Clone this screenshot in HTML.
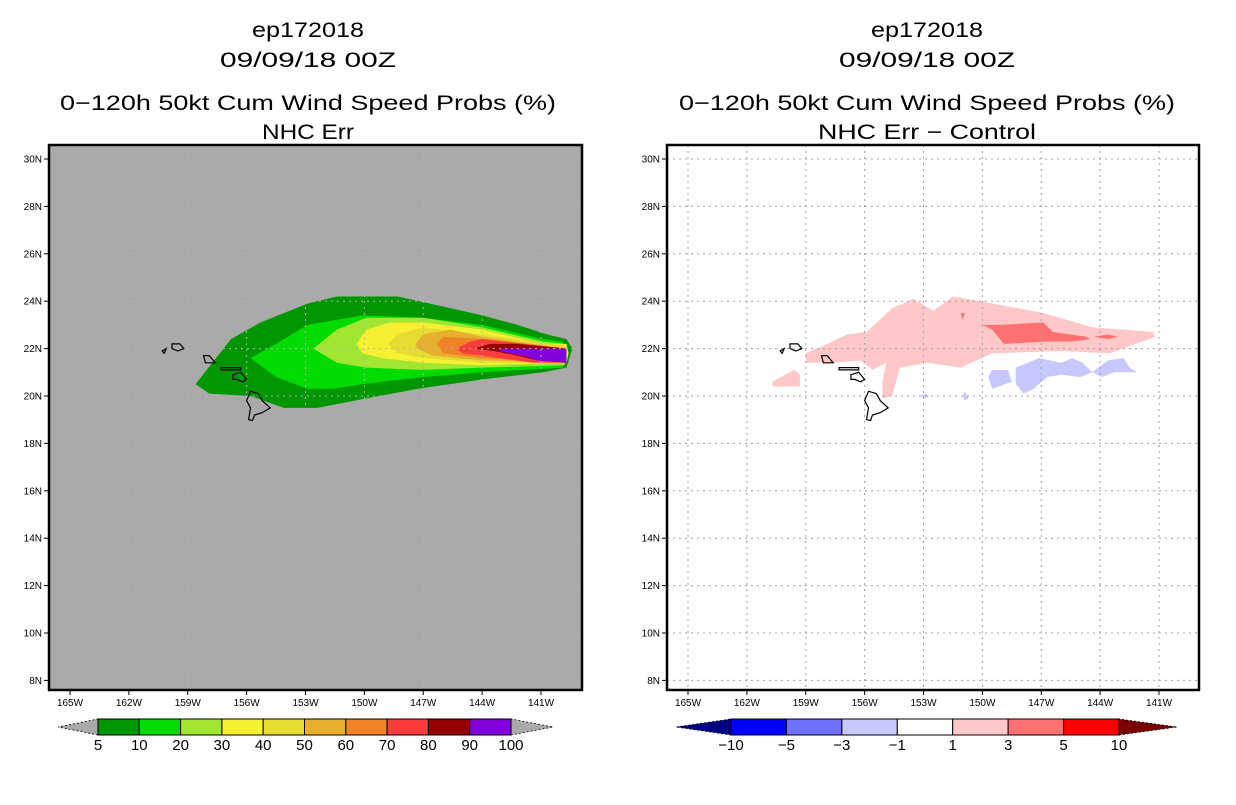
<!DOCTYPE html>
<html><head><meta charset="utf-8">
<style>
html,body{margin:0;padding:0;background:#fff;}
body{width:1236px;height:800px;overflow:hidden;font-family:"Liberation Sans",sans-serif;}
svg text{font-family:"Liberation Sans",sans-serif;}
.t{font-size:21px;fill:#000;text-anchor:middle}
.tk{font-size:10px;fill:#000}
</style></head>
<body>
<svg id="chart" width="1236" height="800" viewBox="0 0 1236 800"></svg>
<script>
// ---- data ----
const latTicks=[30,28,26,24,22,20,18,16,14,12,10,8];
const lonTicks=[-165,-162,-159,-156,-153,-150,-147,-144,-141];
const probLevels=[5,10,20,30,40,50,60,70,80,90,100];
const probColors=["#009600","#00dc00","#a0e632","#f5f032","#e6dc32","#e6af2d","#f08228","#fa3c3c","#960000","#8200dc"];
const diffLevels=["−10","−5","−3","−1","1","3","5","10"];
const diffColors=["#000082","#0000ff","#7070ff","#c8c8ff","#ffffff","#ffc8c8","#ff7070","#ff0000","#780000"];
const p5=[[-158.6,20.5],[-156.8,22.4],[-155.3,23.1],[-152.9,23.9],[-151.4,24.2],[-148.3,24.2],[-145.6,23.7],[-144.0,23.4],[-142.2,23.0],[-140.7,22.6],[-139.7,22.4],[-139.4,22.0],[-139.7,21.2],[-140.9,21.0],[-144.0,20.7],[-147.3,20.3],[-149.9,19.9],[-152.4,19.5],[-154.1,19.5],[-155.8,20.0],[-157.9,20.1]];
const p10=[[-155.8,21.6],[-154.5,22.2],[-152.9,23.0],[-150.1,23.4],[-147.0,23.3],[-144.0,23.0],[-140.9,22.4],[-139.9,22.3],[-139.6,21.8],[-139.9,21.2],[-144.0,21.0],[-147.0,20.8],[-150.1,20.5],[-151.6,20.3],[-152.9,20.3],[-154.5,20.8]];
const p20=[[-152.6,22.0],[-151.4,22.8],[-149.9,23.3],[-147.0,23.3],[-144.0,22.9],[-140.9,22.3],[-139.8,22.2],[-139.6,21.8],[-139.8,21.3],[-144.0,21.2],[-147.0,21.1],[-149.9,21.2],[-151.4,21.4]];
const p30=[[-150.4,22.2],[-149.9,22.8],[-148.7,23.1],[-147.0,23.1],[-144.0,22.8],[-140.9,22.2],[-139.7,22.2],[-139.6,21.8],[-139.7,21.4],[-144.0,21.3],[-147.0,21.4],[-149.1,21.6],[-150.1,21.8]];
const p40=[[-148.8,22.2],[-148.3,22.6],[-147.0,22.9],[-144.0,22.6],[-139.7,22.1],[-139.7,21.4],[-144.0,21.4],[-147.0,21.6],[-148.3,21.8]];
const p50=[[-147.4,22.2],[-147.0,22.6],[-145.6,22.8],[-144.0,22.5],[-139.7,22.0],[-139.7,21.4],[-144.0,21.5],[-146.5,21.7],[-147.3,22.0]];
const p60=[[-146.3,22.2],[-146.0,22.5],[-144.0,22.4],[-139.7,22.0],[-139.7,21.4],[-144.0,21.6],[-146.0,21.8]];
const p70=[[-145.3,22.0],[-144.6,22.3],[-144.0,22.4],[-139.7,22.0],[-139.7,21.4],[-141.4,21.4],[-144.0,21.7],[-145.0,21.8]];
const p80=[[-144.4,22.0],[-143.6,22.2],[-142.2,22.2],[-139.7,22.0],[-139.7,21.4],[-141.2,21.5],[-142.2,21.7],[-143.4,21.9]];
const p90=[[-143.1,22.0],[-142.2,22.0],[-139.7,22.0],[-139.7,21.4],[-141.2,21.5],[-141.9,21.7],[-143.1,21.9]];
const probContours=[p5,p10,p20,p30,p40,p50,p60,p70,p80,p90];
const dPink=[[-159.0,21.8],[-157.9,22.2],[-156.9,22.6],[-155.9,22.7],[-154.6,23.7],[-153.5,24.1],[-152.5,23.6],[-151.5,24.2],[-150.1,24.0],[-146.9,23.5],[-144.4,22.9],[-141.3,22.7],[-141.2,22.5],[-143.5,21.8],[-146.0,21.9],[-149.5,21.8],[-150.3,21.5],[-151.1,21.2],[-152.8,21.4],[-154.2,21.2],[-154.6,20.0],[-155.1,19.9],[-155.1,20.6],[-154.9,21.4],[-155.6,21.1],[-156.2,21.5],[-157.6,21.4],[-159.0,21.4]];
const dPink2=[[-160.7,20.6],[-159.6,21.1],[-159.3,20.9],[-159.3,20.4],[-160.7,20.4]];
const dRed1=[[-150.0,23.0],[-149.1,23.0],[-146.9,23.1],[-146.4,22.7],[-144.7,22.5],[-144.5,22.4],[-145.4,22.3],[-146.7,22.3],[-148.9,22.2],[-149.5,22.8]];
const dRed2=[[-144.3,22.5],[-143.6,22.6],[-143.1,22.5],[-143.6,22.4]];
const dRed3=[[-151.1,23.5],[-150.9,23.5],[-151.0,23.2]];
const dBlue1=[[-149.7,20.8],[-149.5,21.1],[-148.7,21.1],[-148.5,20.6],[-149.5,20.3]];
const dBlue2=[[-148.3,21.2],[-147.7,21.4],[-147.1,21.6],[-146.0,21.4],[-145.4,21.6],[-144.9,21.4],[-144.4,21.0],[-145.0,20.8],[-146.0,20.9],[-146.7,20.8],[-147.4,20.3],[-147.9,20.1],[-148.3,20.5]];
const dBlue3=[[-144.4,21.0],[-143.6,21.5],[-142.8,21.6],[-142.5,21.2],[-142.1,21.0],[-143.3,21.0],[-143.9,20.8]];
const dBlue4=[[-153.2,20.0],[-152.9,20.1],[-152.7,20.0],[-152.9,19.9]];
const dBlue5=[[-151.0,20.0],[-150.9,20.2],[-150.7,19.9],[-150.9,19.8]];
const diffPos=[[dPink,5],[dPink2,5],[dRed1,6],[dRed2,6],[dRed3,6],[dBlue1,3],[dBlue2,3],[dBlue3,3],[dBlue4,3],[dBlue5,3]];
const bigIsland=[[-155.8,20.2],[-155.4,20.1],[-155.2,19.8],[-154.8,19.5],[-155.2,19.3],[-155.6,19.2],[-155.7,18.96],[-155.9,19.0],[-155.8,19.5],[-156.0,19.8]];
const maui=[[-156.7,20.9],[-156.3,21.0],[-156.0,20.7],[-156.2,20.6],[-156.5,20.7],[-156.7,20.7]];
const molokai=[[-157.3,21.2],[-156.3,21.2],[-156.3,21.1],[-157.3,21.1]];
const oahu=[[-158.2,21.7],[-157.9,21.7],[-157.6,21.4],[-158.1,21.4]];
const kauai=[[-159.8,22.2],[-159.4,22.2],[-159.2,22.0],[-159.5,21.9],[-159.8,22.0]];
const niihau=[[-160.3,21.9],[-160.1,22.0],[-160.2,21.8]];
const islands=[bigIsland,maui,molokai,oahu,kauai,niihau];

// ---- drawing ----
const NS="http://www.w3.org/2000/svg";
const svg=document.getElementById('chart');
function mk(tag,attrs,parent){const e=document.createElementNS(NS,tag);for(const k in attrs)e.setAttribute(k,attrs[k]);(parent||svg).appendChild(e);return e;}
const TOP=145,BOT=690,LAT0=30,LATPX=23.7,LAT30Y=159,LONPX=19.625;
function panel(x0,x1,lon165x,bg,name,gridCol){
  const X=lon=>lon165x+(lon+165)*LONPX;
  const Y=lat=>LAT30Y+(LAT0-lat)*LATPX;
  const g=mk('g',{});
  
  
  const cid='clip'+name;
  const cp=mk('clipPath',{id:cid},g);mk('rect',{x:x0,y:TOP,width:x1-x0,height:BOT-TOP},cp);
  const bgr=mk('rect',{x:x0,y:TOP,width:x1-x0,height:BOT-TOP,fill:bg},g);
  
  
  const inner=mk('g',{'clip-path':'url(#'+cid+')'},g);
  return {X,Y,g,inner,x0,x1,gridCol};
}
function poly(P,pts,fill,stroke,name){
  const d=pts.map((p,i)=>(i?'L':'M')+P.X(p[0]).toFixed(1)+','+P.Y(p[1]).toFixed(1)).join('')+'Z';
  const e=mk('path',{d,fill,stroke:stroke||'none','stroke-width':stroke?1.2:0},P.inner);
  
  
  return e;
}
function axes(P){
  latTicks.forEach(l=>{
    const y=P.Y(l);
    const gl=mk('line',{x1:P.x0,x2:P.x1,y1:y,y2:y,stroke:P.gridCol,'stroke-dasharray':'2,4','stroke-width':1},P.inner);
    
    
    mk('line',{x1:P.x0-5,x2:P.x0,y1:y,y2:y,stroke:'#000'},P.g);
    const t=mk('text',{x:P.x0-7,y:y+3.5,'text-anchor':'end',class:'tk'},P.g);t.textContent=l+'N';
    
    
  });
  lonTicks.forEach(l=>{
    const x=P.X(l);
    const gl=mk('line',{x1:x,x2:x,y1:TOP,y2:BOT,stroke:P.gridCol,'stroke-dasharray':'2,4','stroke-width':1},P.inner);
    
    
    mk('line',{x1:x,x2:x,y1:BOT,y2:BOT+5,stroke:'#000'},P.g);
    const t=mk('text',{x:x,y:BOT+16,'text-anchor':'middle',class:'tk'},P.g);t.textContent=(-l)+'W';
    
    
  });
  islands.forEach(is=>poly(P,is,'none','#000','island-outline'));
  const fr=mk('rect',{x:P.x0,y:TOP,width:P.x1-P.x0,height:BOT-TOP,fill:'none',stroke:'#000','stroke-width':2.5},P.g);
  
  
}
function titles(cx,lines,lens){
  const ys=[37,67,110,139];
  lines.forEach((s,i)=>{const t=mk('text',{x:cx,y:ys[i],class:'t',textLength:lens[i],lengthAdjust:'spacingAndGlyphs'});t.textContent=s;
    
    });
}
const L=panel(49,582,70,'#aaaaaa','prob-map','#b4b4b4');
probContours.forEach((c,i)=>poly(L,c,probColors[i],null,'prob-contour-'+probLevels[i]));
axes(L);
titles(308,['ep172018','09/09/18 00Z','0\u2212120h 50kt Cum Wind Speed Probs (%)','NHC Err'],[112,176,496,92]);
const R=panel(667,1199,688,'#ffffff','diff-map','#a0a0a0');
diffPos.forEach(([c,ci])=>poly(R,c,diffColors[ci],null,'diff-contour'));
axes(R);
titles(927,['ep172018','09/09/18 00Z','0\u2212120h 50kt Cum Wind Speed Probs (%)','NHC Err \u2212 Control'],[112,176,496,218]);

function colorbar(xs,xe,tipL,tipR,cols,triL,triR,labels,name){
  const g=mk('g',{});
  const y0=719,y1=735,ym=727,n=cols.length,w=(xe-xs)/n;
  const tl=mk('polygon',{points:`${xs},${y0} ${xs},${y1} ${tipL},${ym}`,fill:triL,stroke:'#000','stroke-dasharray':'2,2','stroke-width':0.8},g);
  
  const tr=mk('polygon',{points:`${xe},${y0} ${xe},${y1} ${tipR},${ym}`,fill:triR,stroke:'#000','stroke-dasharray':'2,2','stroke-width':0.8},g);
  
  cols.forEach((c,i)=>{const r=mk('rect',{x:xs+i*w,y:y0,width:w,height:y1-y0,fill:c,stroke:'#000','stroke-width':1},g);
    });
  labels.forEach((s,i)=>{const t=mk('text',{x:xs+i*w,y:750,'text-anchor':'middle','font-size':'15px'},g);t.textContent=s;
    });
}
colorbar(98,511,58,553,probColors,'#aaaaaa','#aaaaaa',probLevels.map(String),'prob-colorbar');
colorbar(731,1119,676,1177,diffColors.slice(1,8),diffColors[0],diffColors[8],diffLevels,'diff-colorbar');
</script>
</body></html>
